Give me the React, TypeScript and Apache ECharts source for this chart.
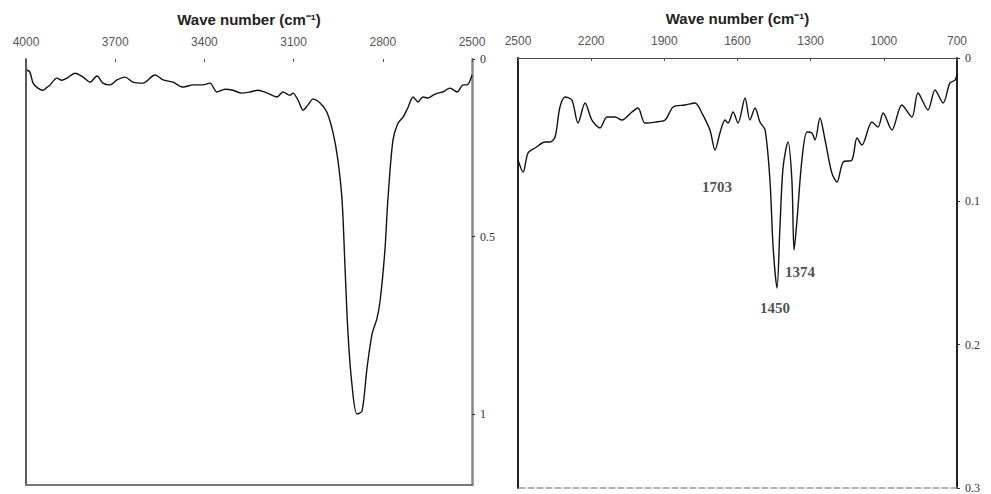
import React, { useEffect, useRef } from "react";
import * as echarts from "echarts";

// Left panel: 4000–2500 cm-1
const waveLeft = [3997, 3987, 3976, 3960, 3943, 3930, 3919, 3896, 3880, 3862, 3835, 3808, 3785, 3761, 3741, 3717, 3694, 3667, 3640, 3607, 3566, 3539, 3506, 3472, 3438, 3405, 3381, 3358, 3330, 3304, 3275, 3247, 3220, 3189, 3156, 3136, 3112, 3102, 3085, 3068, 3052, 3035, 3011, 2988, 2967, 2951, 2937, 2927, 2917, 2904, 2887, 2870, 2853, 2836, 2820, 2809, 2793, 2783, 2766, 2749, 2732, 2715, 2698, 2682, 2665, 2648, 2631, 2615, 2598, 2574, 2550, 2530, 2517, 2500];
const absLeft = [0.031, 0.037, 0.068, 0.082, 0.088, 0.080, 0.073, 0.054, 0.060, 0.054, 0.040, 0.051, 0.065, 0.048, 0.068, 0.073, 0.059, 0.051, 0.065, 0.068, 0.045, 0.059, 0.065, 0.079, 0.073, 0.073, 0.068, 0.093, 0.085, 0.088, 0.096, 0.093, 0.088, 0.096, 0.107, 0.093, 0.102, 0.096, 0.116, 0.144, 0.130, 0.113, 0.124, 0.150, 0.209, 0.285, 0.398, 0.588, 0.774, 0.915, 1.000, 0.992, 0.870, 0.774, 0.732, 0.681, 0.540, 0.398, 0.229, 0.181, 0.164, 0.136, 0.107, 0.121, 0.107, 0.110, 0.102, 0.096, 0.093, 0.082, 0.093, 0.073, 0.073, 0.045];

// Right panel: 2500–700 cm-1
const waveRight = [2500, 2479, 2459, 2430, 2389, 2369, 2348, 2328, 2307, 2279, 2254, 2225, 2197, 2164, 2135, 2102, 2074, 2033, 2008, 1979, 1938, 1897, 1864, 1815, 1774, 1746, 1713, 1692, 1672, 1651, 1639, 1618, 1598, 1569, 1549, 1528, 1508, 1487, 1467, 1454, 1438, 1426, 1413, 1393, 1377, 1368, 1356, 1336, 1315, 1295, 1282, 1262, 1241, 1213, 1192, 1167, 1131, 1110, 1090, 1049, 1024, 1003, 967, 926, 885, 860, 819, 790, 757, 729, 708, 700];
const absRight = [0.0712, 0.0796, 0.0663, 0.0628, 0.0586, 0.0586, 0.0551, 0.0342, 0.0272, 0.0293, 0.0454, 0.0314, 0.0433, 0.0488, 0.0412, 0.0412, 0.0433, 0.0377, 0.0349, 0.0454, 0.0447, 0.0433, 0.0342, 0.0328, 0.0314, 0.0384, 0.0502, 0.0642, 0.0523, 0.0433, 0.0454, 0.0377, 0.0454, 0.0279, 0.0433, 0.0349, 0.0447, 0.0502, 0.0851, 0.1319, 0.1605, 0.1179, 0.0761, 0.0586, 0.0851, 0.1340, 0.1130, 0.0712, 0.0516, 0.0523, 0.0572, 0.0419, 0.0572, 0.0803, 0.0865, 0.0726, 0.0712, 0.0558, 0.0607, 0.0447, 0.0482, 0.0384, 0.0502, 0.0328, 0.0412, 0.0244, 0.0363, 0.0223, 0.0314, 0.0174, 0.0154, 0.0112];

// Peak annotations (text, and where the text sits in data space)
const peakNames = ["1703", "1374", "1450"];
const peakLabelWave = [1684, 1344, 1446];
const peakLabelAbs = [0.090, 0.149, 0.1745];

const leftTicksY = [0, 0.5, 1];
const rightTicksY = [0, 0.1, 0.2, 0.3];
const axisTitle = "Wave number (cm\u207B\u00B9)";

export default function App() {
  const ref = useRef<HTMLDivElement>(null);
  useEffect(() => {
    if (!ref.current) return;
    const chart = echarts.init(ref.current, null, { renderer: "svg" });
    const serif = "'Liberation Serif', 'DejaVu Serif', serif";
    const sans = "'Liberation Sans', Arial, sans-serif";
    const leftData = waveLeft.map((w, i) => [w, absLeft[i]]);
    const rightData = waveRight.map((w, i) => [w, absRight[i]]);
    const peakData = peakNames.map((n, i) => ({ value: [peakLabelWave[i], peakLabelAbs[i]], name: n }));

    const topXAxis = (gridIndex: number, min: number, max: number, showLine: boolean) => ({
      type: "value",
      gridIndex,
      position: "top",
      inverse: true,
      min,
      max,
      interval: 300,
      name: axisTitle,
      nameLocation: "middle",
      nameGap: 32,
      nameTextStyle: { fontFamily: sans, fontSize: 15, color: "#222", fontWeight: "bold" },
      axisLine: { show: showLine, onZero: false, lineStyle: { color: "#444", width: 1 } },
      axisTick: { show: true, length: 3, inside: true, lineStyle: { color: "#555" } },
      axisLabel: { fontFamily: sans, fontSize: 12, color: "#555", margin: 11, formatter: (v: number) => String(v) },
      splitLine: { show: false },
    });
    const bottomXAxis = (gridIndex: number, min: number, max: number, color: string, type: string, width: number) => ({
      type: "value",
      gridIndex,
      position: "bottom",
      inverse: true,
      min,
      max,
      axisLine: { show: true, onZero: false, lineStyle: { color, width, type } },
      axisTick: { show: false },
      axisLabel: { show: false },
      splitLine: { show: false },
    });

    chart.setOption({
      animation: false,
      backgroundColor: "#fff",
      grid: [
        { left: 26, top: 59, width: 446, height: 426 },
        { left: 518, top: 58, width: 439, height: 430 },
      ],
      xAxis: [
        topXAxis(0, 2500, 4000, false),
        bottomXAxis(0, 2500, 4000, "#777", "solid", 2),
        topXAxis(1, 700, 2500, true),
        bottomXAxis(1, 700, 2500, "#999", "dashed", 1.5),
      ],
      yAxis: [
        {
          type: "value",
          gridIndex: 0,
          position: "right",
          inverse: true,
          min: 0,
          max: 1.2,
          interval: 0.5,
          axisLine: { show: true, onZero: false, lineStyle: { color: "#888", width: 2.5 } },
          axisTick: { show: true, length: 3, lineStyle: { color: "#333" }, customValues: leftTicksY },
          axisLabel: {
            fontFamily: serif, fontSize: 12, color: "#333", margin: 8,
            customValues: leftTicksY,
            formatter: (v: number) => (v > 1.1 ? "" : String(v)),
          },
          splitLine: { show: false },
        },
        {
          type: "value",
          gridIndex: 0,
          position: "left",
          inverse: true,
          min: 0,
          max: 1.2,
          axisLine: { show: true, onZero: false, lineStyle: { color: "#222", width: 1.5 } },
          axisTick: { show: false },
          axisLabel: { show: false },
          splitLine: { show: false },
        },
        {
          type: "value",
          gridIndex: 1,
          position: "right",
          inverse: true,
          min: 0,
          max: 0.3,
          interval: 0.1,
          axisLine: { show: true, onZero: false, lineStyle: { color: "#222", width: 2 } },
          axisTick: { show: true, length: 3, lineStyle: { color: "#333" } },
          axisLabel: { fontFamily: serif, fontSize: 12, color: "#333", margin: 8, customValues: rightTicksY },
          splitLine: { show: false },
        },
        {
          type: "value",
          gridIndex: 1,
          position: "left",
          inverse: true,
          min: 0,
          max: 0.3,
          axisLine: { show: true, onZero: false, lineStyle: { color: "#222", width: 2 } },
          axisTick: { show: false },
          axisLabel: { show: false },
          splitLine: { show: false },
        },
      ],
      series: [
        {
          type: "line",
          xAxisIndex: 0,
          yAxisIndex: 0,
          data: leftData,
          showSymbol: false,
          smooth: 0.3,
          lineStyle: { color: "#111", width: 1.4 },
        },
        {
          type: "line",
          xAxisIndex: 2,
          yAxisIndex: 2,
          data: rightData,
          showSymbol: false,
          smooth: 0.3,
          lineStyle: { color: "#111", width: 1.4 },
        },
        {
          type: "scatter",
          xAxisIndex: 2,
          yAxisIndex: 2,
          data: peakData,
          symbolSize: 1,
          itemStyle: { color: "rgba(0,0,0,0)" },
          label: {
            show: true,
            position: "inside",
            formatter: (p: any) => p.name,
            fontFamily: serif,
            fontWeight: "bold",
            fontSize: 15,
            color: "#222",
          },
        },
      ],
    });
    return () => chart.dispose();
  }, []);
  return (
    <div
      ref={ref}
      style={{ position: "fixed", left: 0, top: 0, width: 991, height: 494, background: "#fff" }}
    />
  );
}
